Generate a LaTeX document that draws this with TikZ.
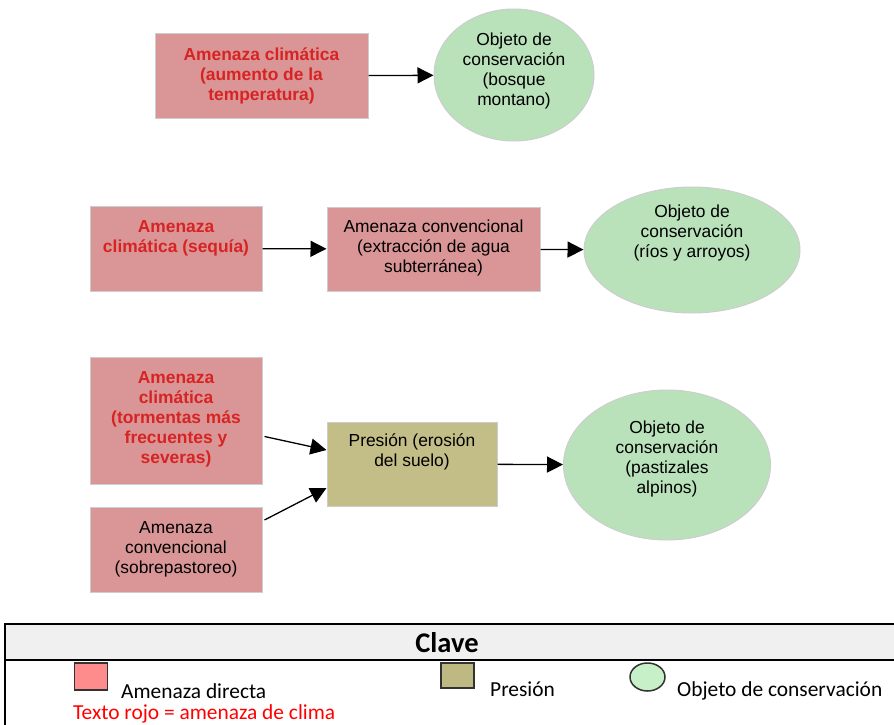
\documentclass[tikz,border=0pt]{standalone}
\usepackage{fontspec}
\setmainfont{Liberation Sans}
\newfontfamily\calib{Carlito}
\usetikzlibrary{arrows.meta,shapes.geometric,calc}
\definecolor{threatfill}{RGB}{218,150,150}
\definecolor{boxborder}{RGB}{205,205,205}
\definecolor{climred}{RGB}{215,35,35}
\definecolor{pressfill}{RGB}{195,190,135}
\definecolor{objfill}{RGB}{185,226,187}
\definecolor{keyhead}{RGB}{240,240,240}
\definecolor{keyred}{RGB}{255,140,140}
\definecolor{keyolive}{RGB}{190,185,130}
\definecolor{keygreen}{RGB}{200,240,200}
\definecolor{keyborder}{RGB}{50,50,50}
\definecolor{textred}{RGB}{255,0,0}
\begin{document}
\begin{tikzpicture}[x=1pt,y=-1pt,
  threat/.style={rectangle,draw=boxborder,fill=threatfill,line width=1pt,inner sep=0pt},
  press/.style={rectangle,draw=boxborder,fill=pressfill,line width=1pt,inner sep=0pt},
  obj/.style={ellipse,draw=boxborder,fill=objfill,line width=1pt,inner sep=0pt},
  txt/.style={align=center,inner sep=0pt,font=\fontsize{17.4}{20}\selectfont},
  ctxt/.style={txt,text=climred,font=\fontsize{17.4}{20}\selectfont\bfseries},
  arr/.style={line width=1.3pt,-{Triangle[length=16pt,width=16pt]}},
  keytxt/.style={anchor=west,inner sep=0pt,font=\calib\fontsize{21.4}{24}\selectfont},
  keybox/.style={draw=keyborder,line width=1.5pt}
]
\useasboundingbox (0,0) rectangle (894,725);

% Row 1
\node[threat,minimum width=213,minimum height=84] (t1) at (261.5,76) {};
\node[ctxt] (t1txt) at (261.5,76) {Amenaza climática\\(aumento de la\\temperatura)};
\node[obj,minimum width=160,minimum height=132] (o1) at (514,75) {};
\node[txt] (o1txt) at (514,71) {Objeto de\\conservación\\(bosque\\montano)};
\draw[arr] (t1) -- (o1);

% Row 2
\node[threat,minimum width=172,minimum height=85] (t2) at (176,248.5) {};
\node[ctxt] (t2txt) at (176,238) {Amenaza\\climática (sequía)};
\node[threat,minimum width=213,minimum height=84] (c2) at (433.5,249) {};
\node[txt] (c2txt) at (433.5,248) {Amenaza convencional\\(extracción de agua\\subterránea)};
\node[obj,minimum width=216,minimum height=126] (o2) at (692,250) {};
\node[txt] (o2txt) at (692,233) {Objeto de\\conservación\\(ríos y arroyos)};
\draw[arr] (t2) -- (c2);
\draw[arr] (c2) -- (o2);

% Row 3
\node[threat,minimum width=172,minimum height=127] (t3) at (176,420.5) {};
\node[ctxt] (t3txt) at (176,419) {Amenaza\\climática\\(tormentas más\\frecuentes y\\severas)};
\node[threat,minimum width=172,minimum height=85] (c3) at (176,549.5) {};
\node[txt] (c3txt) at (176,549) {Amenaza\\convencional\\(sobrepastoreo)};
\node[press,minimum width=170,minimum height=84] (p3) at (412,464) {};
\node[txt] (p3txt) at (412,452) {Presión (erosión\\del suelo)};
\node[obj,minimum width=207,minimum height=150] (o3) at (667,465) {};
\node[txt] (o3txt) at (667,459) {Objeto de\\conservación\\(pastizales\\alpinos)};
\draw[arr] ($(t3.east)+(2,16)$) -- ($(p3.west)+(0,-14)$);
\draw[arr] ($(c3.east)+(2,-29.5)$) -- ($(p3.west)+(0,24)$);
\draw[arr] (p3) -- (o3);

% Key
\fill[keyhead] (5,624) rectangle (900,660);
\draw[line width=2pt] (5,760) -- (5,624) -- (900,624);
\draw[line width=1.5pt] (5,660) -- (900,660);
\node[font=\calib\bfseries\fontsize{28.5}{30}\selectfont,inner sep=0pt] (clave) at (447,643) {Clave};
\node[keybox,fill=keyred,minimum width=33,minimum height=27,inner sep=0pt] (k1) at (91,676.5) {};
\node[keytxt] (k1t) at (121,691) {Amenaza directa};
\node[keytxt,text=textred] (k4t) at (73,713.5) {Texto rojo = amenaza de clima};
\node[keybox,fill=keyolive,minimum width=33,minimum height=25,inner sep=0pt] (k2) at (457.5,675.5) {};
\node[keytxt] (k2t) at (490,689) {Presión};
\node[keybox,fill=keygreen,ellipse,minimum width=35,minimum height=28,inner sep=0pt] (k3) at (647.5,677) {};
\node[keytxt] (k3t) at (677,691) {Objeto de conservación};
\end{tikzpicture}
\end{document}
